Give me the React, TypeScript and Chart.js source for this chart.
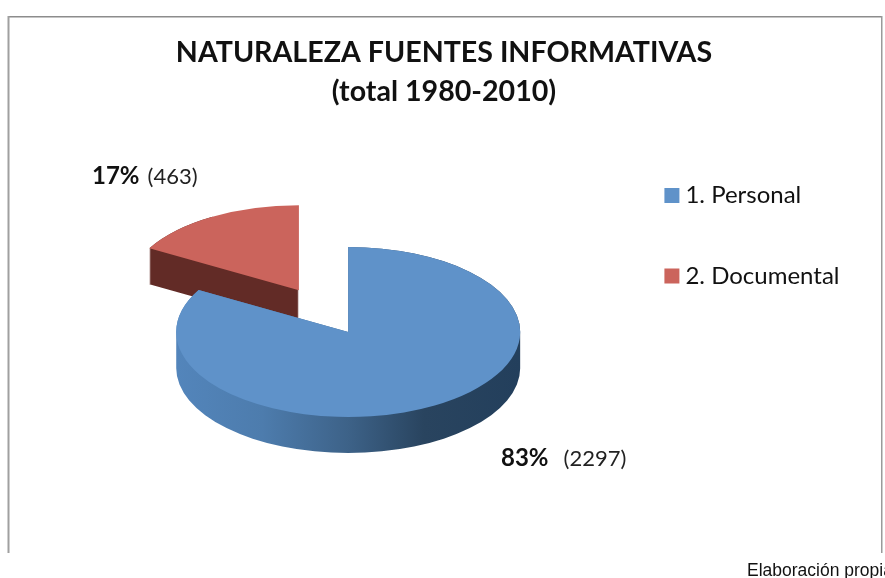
import React, { useEffect, useRef } from "react";
import { Chart, registerables } from "chart.js";

Chart.register(...registerables);

const categories = ["1. Personal", "2. Documental"];
const values = [2297, 463];
const percents = ["83%", "17%"];
const sliceColors = ["#5f92c9", "#cb645c"];
const explode = [0, 98];
const titleLines = ["NATURALEZA FUENTES INFORMATIVAS", "(total 1980-2010)"];
const sourceNote = "Elaboración propia";

const SQUASH = 0.494;
const DEPTH = 36;
const PIE_SHIFT_X = 22;

const piePlugin = {
  id: "pie3d",
  afterDatasetsUpdate(chart: any) {
    chart.getDatasetMeta(0).data.forEach((el: any, i: number) => {
      const mid = (el.startAngle + el.endAngle) / 2;
      el.x = el.x + PIE_SHIFT_X + Math.cos(mid) * explode[i];
      el.y = el.y + Math.sin(mid) * explode[i];
    });
  },
  beforeDraw(chart: any) {
    const { ctx } = chart;
    ctx.save();
    ctx.fillStyle = "#ffffff";
    ctx.fillRect(0, 0, chart.width, chart.height);
    ctx.fillStyle = "#8c8c8c";
    ctx.fillRect(8, 16, 874, 1.5);
    ctx.fillStyle = "#a0a0a0";
    ctx.fillRect(7.5, 16, 2, 537);
    ctx.fillStyle = "#9a9a9a";
    ctx.fillRect(881, 16, 1.5, 537);
    ctx.restore();
  },
  beforeDatasetsDraw(chart: any) {
    const { ctx } = chart;
    const arcs = chart.getDatasetMeta(0).data;
    const pivotY = arcs[0].y;
    const order = [1, 0];
    order.forEach((i) => {
      const el = arcs[i];
      const { x, y, startAngle, endAngle, outerRadius } = el;
      const mid = (startAngle + endAngle) / 2;
      // the red slice's closing edge faces away from the viewer, so its wall stops at mid-angle
      const wallEnd = i === 1 ? mid : endAngle;
      let fill: any = "#622b26";
      if (i === 0) {
        const g = ctx.createLinearGradient(x - outerRadius, 0, x + outerRadius, 0);
        g.addColorStop(0, "#5385bb");
        g.addColorStop(0.25, "#4d7cad");
        g.addColorStop(0.5, "#3d6288");
        g.addColorStop(0.72, "#29445f");
        g.addColorStop(1, "#233f5c");
        fill = g;
      }
      ctx.beginPath();
      for (let d = 0; d <= DEPTH; d++) {
        ctx.save();
        ctx.translate(0, d + pivotY);
        ctx.scale(1, SQUASH);
        ctx.translate(0, -pivotY);
        ctx.moveTo(x, y);
        ctx.arc(x, y, outerRadius, startAngle, wallEnd);
        ctx.closePath();
        ctx.restore();
      }
      ctx.fillStyle = fill;
      ctx.fill();
    });
    ctx.save();
    ctx.translate(0, pivotY);
    ctx.scale(1, SQUASH);
    ctx.translate(0, -pivotY);
  },
  afterDatasetsDraw(chart: any) {
    chart.ctx.restore();
  },
  afterDraw(chart: any) {
    const { ctx } = chart;
    const label = (bold: string, rest: string, x: number, y: number, gap: number) => {
      ctx.save();
      ctx.textBaseline = "middle";
      ctx.textAlign = "left";
      ctx.fillStyle = "#111111";
      ctx.font = "bold 24px Lato";
      ctx.fillText(bold, x, y);
      const w = ctx.measureText(bold).width;
      ctx.font = "22px Lato";
      ctx.fillStyle = "#222222";
      ctx.fillText(`(${rest})`, x + w + gap, y + 1);
      ctx.restore();
    };
    label(percents[1], String(values[1]), 92, 176, 8);
    label(percents[0], String(values[0]), 501, 458, 15);
    ctx.save();
    ctx.font = "17.5px 'Liberation Sans'";
    ctx.fillStyle = "#111111";
    ctx.textBaseline = "alphabetic";
    ctx.textAlign = "left";
    ctx.fillText(sourceNote, 747, 576);
    ctx.restore();
  },
};

export default function App() {
  const ref = useRef<HTMLCanvasElement | null>(null);
  useEffect(() => {
    const chart = new Chart(ref.current as HTMLCanvasElement, {
      type: "pie",
      data: {
        labels: categories,
        datasets: [
          {
            data: values,
            backgroundColor: sliceColors,
            borderWidth: 0,
            hoverOffset: 0,
            clip: false,
          } as any,
        ],
      },
      options: {
        responsive: false,
        animation: false,
        radius: 172,
        layout: { padding: { left: 38.5, right: 35.5, top: 0, bottom: 41 } },
        plugins: {
          title: {
            display: true,
            text: titleLines,
            color: "#111111",
            font: { family: "Lato", size: 28.6, weight: "bold", lineHeight: 1.364 },
            padding: { top: 33, bottom: 16 },
          },
          legend: {
            display: true,
            position: "right",
            align: "start",
            fullSize: false,
            labels: {
              usePointStyle: true,
              pointStyle: "rect",
              boxWidth: 3,
              boxHeight: 15,
              padding: 56.5,
              color: "#111111",
              font: { family: "Lato", size: 24 },
            },
          },
          tooltip: { enabled: false },
        },
      } as any,
      plugins: [piePlugin],
    });
    return () => chart.destroy();
  }, []);
  return (
    <div style={{ position: "absolute", left: 0, top: 0, width: 885, height: 578, overflow: "hidden" }}>
      <canvas ref={ref} width={885} height={578} style={{ display: "block" }} />
    </div>
  );
}
